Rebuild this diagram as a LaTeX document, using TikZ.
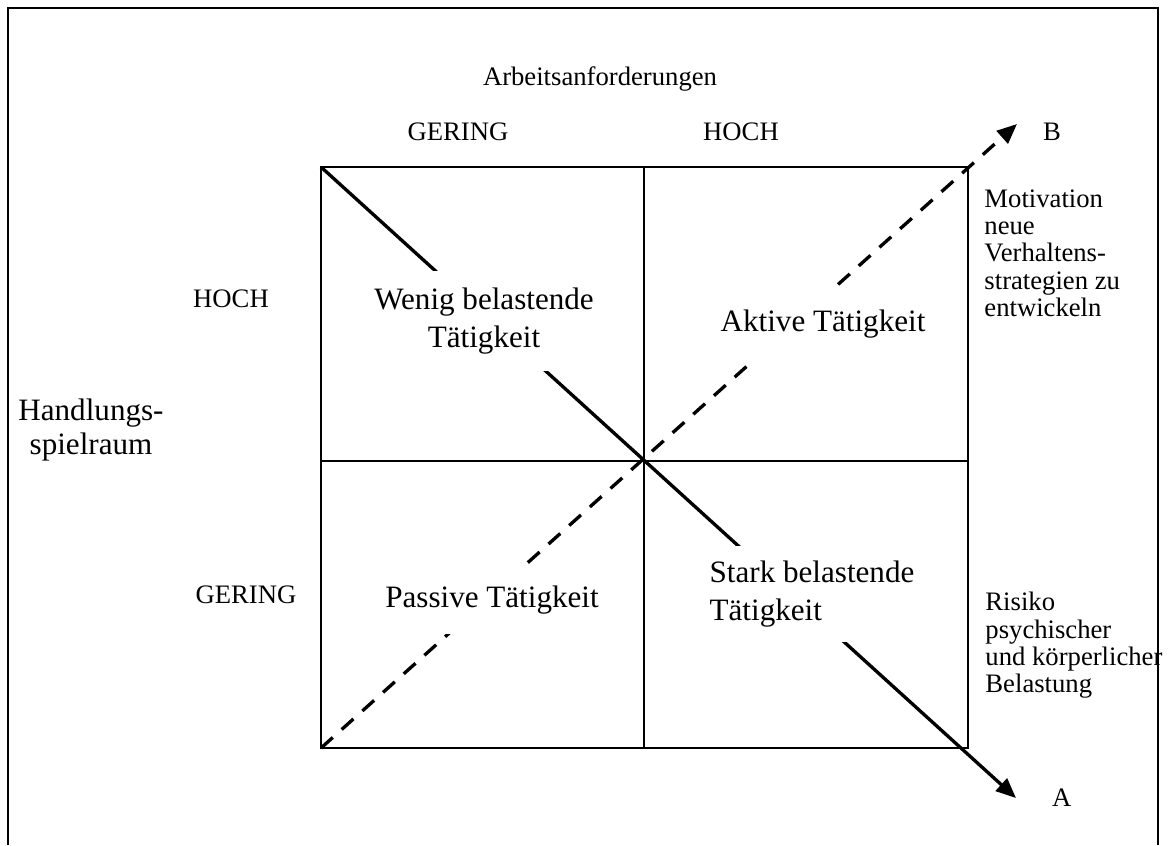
\documentclass[tikz,border=0pt]{standalone}
\usepackage{fontspec}
\setmainfont{Liberation Serif}
\usetikzlibrary{arrows.meta,positioning}
\tikzset{
  rahmen/.style={draw=black, line width=1pt},
  feld/.style={draw=black, line width=1pt},
  cell/.style={
    fill=white, inner xsep=4pt, inner ysep=0pt,
    font=\fontsize{14}{16.7}\selectfont
  },
  lbl/.style={inner sep=0pt, font=\fontsize{12}{14}\selectfont},
  note/.style={
    inner sep=0pt, align=left, anchor=north west,
    font=\fontsize{12}{12.3}\selectfont
  },
  arr/.style={-{Triangle[length=9pt,width=7.5pt]}, draw=black, line width=1.5pt},
  darr/.style={arr, dash pattern=on 7.1pt off 5.4pt}
}

\begin{document}
\begin{tikzpicture}[x=0.45pt, y=-0.45pt]
  \useasboundingbox (0,0) rectangle (1168,845);
  % Raster
  \coordinate (nw) at (321,167);
  \coordinate (ne) at (968,167);
  \coordinate (sw) at (321,748);
  \coordinate (se) at (968,748);
  \coordinate (mid) at (644,461);
  \coordinate (tipA) at (1016,798);
  \coordinate (tipB) at (1017,124);
  \draw[feld] (nw) rectangle (se);
  \draw[feld] (nw -| mid) -- (sw -| mid);
  \draw[feld] (nw |- mid) -- (ne |- mid);
  \draw[arr] (nw) -- (tipA);
  \draw[darr] (sw) -- (tipB);
  % Achsen
  \node[lbl, anchor=base] (titel) at (600,85) {Arbeitsanforderungen};
  \node[lbl, anchor=base] (agering) at (458,140) {GERING};
  \node[lbl, anchor=base] (ahoch) at (741,140) {HOCH};
  \node[lbl, anchor=base] (hhoch) at (231,307) {HOCH};
  \node[lbl, anchor=base] (hgering) at (246,603) {GERING};
  \node[lbl, align=center, font=\fontsize{14}{15.3}\selectfont] (achse) at (91,430) {Handlungs-\\spielraum};
  \node[lbl, right=16pt of tipA] (A) {A};
  \node[lbl, right=11.5pt of tipB, yshift=-3.6pt] (B) {B};
  % Felder
  \node[cell, align=center, minimum height=44.6pt] (wenig) at (484,321) {Wenig belastende\\Tätigkeit};
  \node[cell, minimum height=33pt] (aktiv) at (823,324) {Aktive Tätigkeit};
  \node[cell, minimum height=30.6pt] (passiv) at (492,600) {Passive Tätigkeit};
  \node[cell, align=left, minimum height=43.6pt] (stark) at (812,594) {Stark belastende\\Tätigkeit};
  % Folgen
  \node[note] (motiv) at (984,189) {Motivation\\neue\\Verhaltens-\\strategien zu\\entwickeln};
  \node[note] (risiko) at (985,592) {Risiko\\psychischer\\und körperlicher\\Belastung};
  \draw[rahmen] (8,845) -- (8,8) -- (1158,8) -- (1158,845);
\end{tikzpicture}
\end{document}
